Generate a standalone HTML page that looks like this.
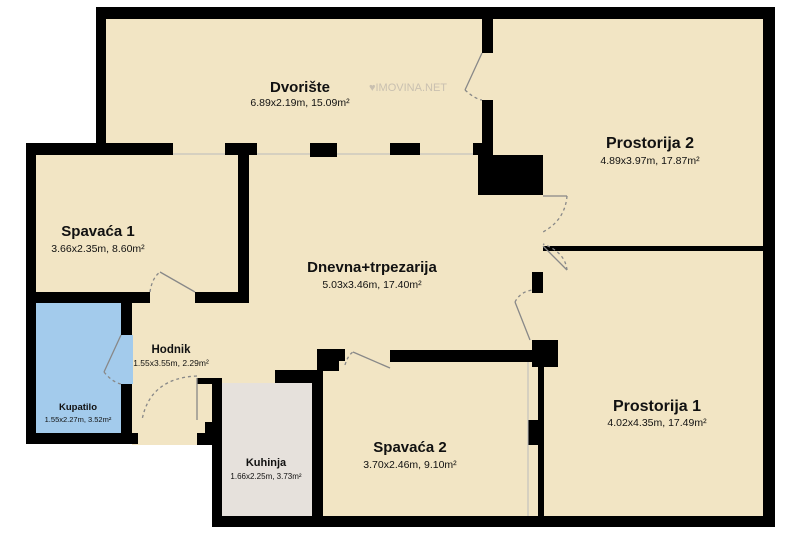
<!DOCTYPE html>
<html><head><meta charset="utf-8"><style>
html,body{margin:0;padding:0;background:#fff;width:800px;height:536px;overflow:hidden}
svg{display:block}
text{font-family:"Liberation Sans",sans-serif;text-anchor:middle;fill:#111}
.t{font-weight:bold}
</style></head><body>
<svg width="800" height="536" viewBox="0 0 800 536" xmlns="http://www.w3.org/2000/svg">
<g fill="#f2e5c4">
<rect x="106" y="19" width="657" height="135"/>
<rect x="36" y="148" width="727" height="156"/>
<rect x="132" y="298" width="400" height="147"/>
<rect x="323" y="298" width="440" height="220"/>
<rect x="543" y="248" width="220" height="272"/>
</g>
<rect x="36" y="302" width="86" height="131" fill="#a3cbec"/>
<rect x="121" y="335" width="12" height="49" fill="#a3cbec"/>
<rect x="222" y="383" width="90" height="133" fill="#e6e1dc"/>
<g fill="#000">
<rect x="96" y="7" width="679" height="12"/>
<rect x="96" y="7" width="10" height="143"/>
<rect x="763" y="7" width="12" height="520"/>
<rect x="26" y="143" width="147" height="12"/>
<rect x="225" y="143" width="32" height="12"/>
<rect x="310" y="143" width="27" height="14"/>
<rect x="390" y="143" width="30" height="12"/>
<rect x="473" y="143" width="20" height="12"/>
<rect x="482" y="19" width="11" height="34"/>
<rect x="482" y="100" width="11" height="55"/>
<rect x="478" y="155" width="65" height="40"/>
<rect x="543" y="246" width="232" height="5"/>
<rect x="532" y="272" width="11" height="21"/>
<rect x="532" y="340" width="26" height="27"/>
<rect x="538" y="362" width="6" height="165"/>
<rect x="528" y="420" width="10" height="25"/>
<rect x="390" y="350" width="148" height="12"/>
<rect x="317" y="349" width="28" height="12"/>
<rect x="317" y="361" width="22" height="10"/>
<rect x="275" y="370" width="48" height="13"/>
<rect x="312" y="370" width="11" height="157"/>
<rect x="212" y="516" width="563" height="11"/>
<rect x="212" y="378" width="10" height="149"/>
<rect x="197" y="378" width="25" height="6"/>
<rect x="205" y="422" width="10" height="23"/>
<rect x="197" y="433" width="15" height="12"/>
<rect x="26" y="143" width="10" height="301"/>
<rect x="238" y="150" width="11" height="152"/>
<rect x="26" y="292" width="124" height="11"/>
<rect x="195" y="292" width="54" height="11"/>
<rect x="121" y="302" width="11" height="33"/>
<rect x="121" y="384" width="11" height="60"/>
<rect x="26" y="433" width="112" height="11"/>
</g>
<g stroke="#bbb" stroke-width="1">
<line x1="173" y1="154" x2="225" y2="154"/><line x1="257" y1="154" x2="310" y2="154"/>
<line x1="337" y1="154" x2="390" y2="154"/><line x1="420" y1="154" x2="473" y2="154"/>
<line x1="528" y1="362" x2="528" y2="516"/>
</g>
<g fill="none" stroke="#888" stroke-width="1.3">
<line x1="482" y1="53" x2="465" y2="90"/>
<path d="M465 90 Q475 99 482 100" stroke-dasharray="3,3"/>
<line x1="543" y1="196" x2="567" y2="196"/>
<path d="M567 196 Q565 220 543 232" stroke-dasharray="3,3"/>
<line x1="543" y1="246" x2="567" y2="270"/>
<path d="M567 270 Q565 252 543 244" stroke-dasharray="3,3"/>
<line x1="530" y1="340" x2="515" y2="302"/>
<path d="M515 302 Q520 292 532 290" stroke-dasharray="3,3"/>
<line x1="160" y1="272" x2="195" y2="292"/>
<path d="M150 292 Q152 278 160 272" stroke-dasharray="3,3"/>
<line x1="121" y1="335" x2="104" y2="372"/>
<path d="M104 372 Q112 382 121 384" stroke-dasharray="3,3"/>
<line x1="197" y1="378" x2="197" y2="420"/>
<path d="M197 376 Q150 378 142 420" stroke-dasharray="3,3"/>
<line x1="353" y1="352" x2="390" y2="368"/>
<path d="M345 365 Q348 355 353 352" stroke-dasharray="3,3"/>
</g>
<text x="300" y="92" class="t" font-size="15">Dvorište</text>
<text x="300" y="106" font-size="10.5">6.89x2.19m, 15.09m²</text>
<text x="408" y="91" font-size="11" style="fill:#c9c0b0">♥IMOVINA.NET</text>
<text x="650" y="148" class="t" font-size="16">Prostorija 2</text>
<text x="650" y="164" font-size="10.5">4.89x3.97m, 17.87m²</text>
<text x="98" y="236" class="t" font-size="15">Spavaća 1</text>
<text x="98" y="252" font-size="10.5">3.66x2.35m, 8.60m²</text>
<text x="372" y="272" class="t" font-size="15">Dnevna+trpezarija</text>
<text x="372" y="288" font-size="10.5">5.03x3.46m, 17.40m²</text>
<text x="171" y="353" class="t" font-size="11.5">Hodnik</text>
<text x="171" y="366" font-size="8.5">1.55x3.55m, 2.29m²</text>
<text x="78" y="410" class="t" font-size="9.5">Kupatilo</text>
<text x="78" y="422" font-size="7.5">1.55x2.27m, 3.52m²</text>
<text x="266" y="466" class="t" font-size="11">Kuhinja</text>
<text x="266" y="479" font-size="8">1.66x2.25m, 3.73m²</text>
<text x="410" y="452" class="t" font-size="15">Spavaća 2</text>
<text x="410" y="468" font-size="10.5">3.70x2.46m, 9.10m²</text>
<text x="657" y="411" class="t" font-size="16">Prostorija 1</text>
<text x="657" y="426" font-size="10.5">4.02x4.35m, 17.49m²</text>
</svg>
</body></html>
